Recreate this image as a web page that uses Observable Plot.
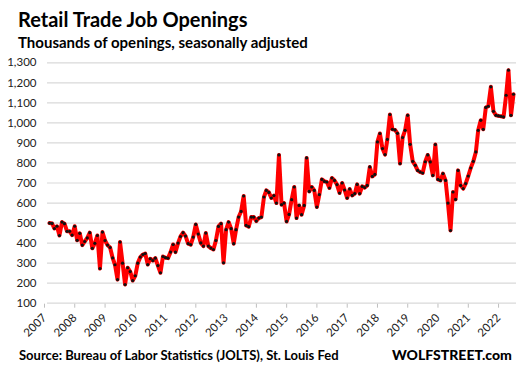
<!DOCTYPE html>
<html><head><meta charset="utf-8">
<script src="https://cdn.jsdelivr.net/npm/d3@7"></script>
<script src="https://cdn.jsdelivr.net/npm/@observablehq/plot@0.6"></script>
<style>
body{margin:0;background:#fff;width:524px;height:372px;position:relative;overflow:hidden;font-family:Lato,"Open Sans",sans-serif;color:#000}
.t{position:absolute;white-space:nowrap;font-weight:bold;line-height:1}
#title{left:18px;top:9px;font-size:20px}
#subtitle{left:18px;top:35px;font-size:15px}
#chart{position:absolute;left:0;top:52px}
#source{left:19px;top:349px;font-size:13px}
#brand{left:392px;top:348px;font-size:14px;font-weight:900}
</style></head><body>
<div class="t" id="title">Retail Trade Job Openings</div>
<div class="t" id="subtitle">Thousands of openings, seasonally adjusted</div>
<div id="chart"></div>
<div class="t" id="source">Source: Bureau of Labor Statistics (JOLTS), St. Louis Fed</div>
<div class="t" id="brand">WOLFSTREET.com</div>
<script>
// Monthly retail trade job openings (thousands), Jan 2007 - May 2022
const startYear = 2007;
const openings = [
  500, 498, 473, 484, 438, 505, 497, 459, 459, 440, 484, 414,
  449, 390, 408, 426, 452, 374, 399, 438, 273, 455, 413, 390,
  378, 326, 292, 218, 405, 300, 193, 277, 258, 213, 237, 300,
  330, 343, 348, 293, 322, 313, 325, 288, 252, 333, 327, 325,
  355, 393, 355, 400, 433, 452, 435, 397, 392, 430, 493, 445,
  401, 385, 450, 385, 375, 368, 413, 483, 497, 302, 467, 505,
  472, 397, 467, 530, 558, 635, 488, 482, 530, 530, 510, 525,
  530, 630, 663, 653, 625, 637, 600, 840, 592, 600, 508, 543,
  617, 680, 525, 588, 542, 588, 825, 658, 680, 663, 580, 642,
  718, 708, 705, 675, 725, 713, 692, 650, 700, 665, 625, 670,
  638, 647, 693, 647, 683, 677, 688, 780, 733, 743, 905, 947,
  872, 842, 918, 1042, 968, 965, 948, 797, 927, 963, 1038, 893,
  808, 788, 763, 755, 750, 806, 840, 805, 738, 892, 718, 713,
  747, 713, 600, 463, 655, 618, 763, 688, 672, 697, 735, 775,
  808, 855, 963, 1013, 968, 1077, 1083, 1180, 1058, 1038, 1035, 1033,
  1030, 1138, 1263, 1038, 1143
];
const yTicks = [100, 200, 300, 400, 500, 600, 700, 800, 900, 1000, 1100, 1200, 1300];
const yearLabels = [2007, 2008, 2009, 2010, 2011, 2012, 2013, 2014, 2015, 2016, 2017, 2018, 2019, 2020, 2021, 2022];

const data = openings.map((v, i) => ({date: new Date(Date.UTC(startYear, i, 1)), value: v}));
const yearDates = yearLabels.map(y => new Date(Date.UTC(y, 0, 1)));
const font = 'Lato, "Open Sans", sans-serif';

const chart = Plot.plot({
  width: 524,
  height: 288,
  marginLeft: 47,
  marginRight: 8,
  marginTop: 10.3,
  marginBottom: 37.3,
  style: {fontFamily: font, fontSize: "11.5px", background: "#fff", overflow: "visible"},
  x: {type: "utc", domain: [data[0].date, data[data.length - 1].date], insetLeft: 2, insetRight: 3},
  y: {domain: [100, 1300]},
  marks: [
    Plot.ruleY(yTicks, {stroke: "#d9d9d9", strokeWidth: 1.2}),
    Plot.axisY({ticks: yTicks, tickSize: 0, tickPadding: 11, tickFormat: d3.format(","), label: null, fill: "#222"}),
    Plot.axisX({ticks: yearDates, tickFormat: d3.utcFormat("%Y"), tickSize: 4, tickRotate: -45, label: null, stroke: "#bfbfbf", fill: "#222", dx: -5, dy: 1}),
    Plot.line(data, {x: "date", y: "value", stroke: "#ff0000", strokeWidth: 4, strokeLinejoin: "round"}),
    Plot.dot(data, {x: "date", y: "value", r: 1.6, fill: "#111"})
  ]
});
document.getElementById("chart").appendChild(chart);
</script>
</body></html>
